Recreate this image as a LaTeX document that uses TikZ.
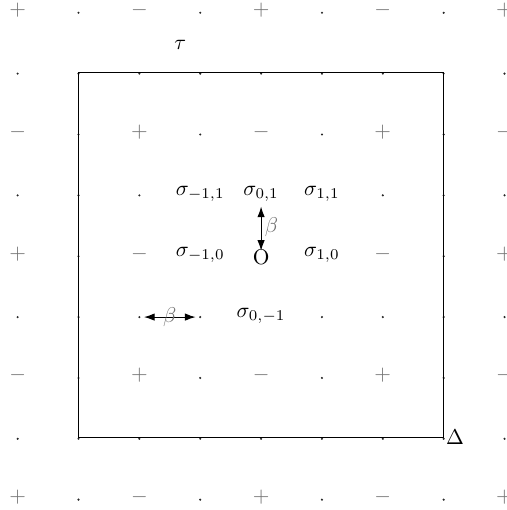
\documentclass[tikz,border=0pt]{standalone}
\usetikzlibrary{arrows.meta}
\begin{document}
\begin{tikzpicture}[
  sgn/.style={text=black!55, inner sep=0pt},
  gdot/.style={circle, fill=black!85, inner sep=0pt, minimum size=1.1pt},
  sig/.style={inner sep=2pt},
  lab/.style={inner sep=1pt},
  conn/.style={{Latex[length=5pt,width=3.5pt]}-{Latex[length=5pt,width=3.5pt]}, line width=0.5pt},
  blab/.style={text=black!55, inner sep=1.5pt},
]
\useasboundingbox (-4.29,-4.19) rectangle (4.03,4.19);
% grid of signs and dots
\foreach \i in {-4,...,4}{
  \foreach \j in {-4,...,4}{
    \pgfmathtruncatemacro\pe{and(mod(abs(\i),2)==0, mod(abs(\j),2)==0)}
    \pgfmathtruncatemacro\sk{and(and(abs(\i)<=1, abs(\j)<=1), not(and(\j==-1, abs(\i)==1)))}
    \pgfmathtruncatemacro\sg{mod(abs(\i+\j)/2,2)}
    \ifnum\sk=0
      \ifnum\pe=1
        \node[sgn] (g\i\j) at (\i,\j+0.02) {\ifnum\sg=0 $+$\else $-$\fi};
      \else
        \node[gdot] (g\i\j) at (\i,\j-0.02) {};
      \fi
    \fi
  }
}
% square
\draw[line width=0.55pt] (-3,-3) rectangle (3,3);
% labels
\node[sig] (sm11) at (-1,1) {$\sigma_{-1,1}$};
\node[sig] (s01) at (0,1) {$\sigma_{0,1}$};
\node[sig] (s11) at (1,1) {$\sigma_{1,1}$};
\node[sig] (sm10) at (-1,0) {$\sigma_{-1,0}$};
\node[inner sep=0pt] (O) at (0,-0.03) {O};
\node[sig] (s10) at (1,0) {$\sigma_{1,0}$};
\node[sig] (s0m1) at (0,-1) {$\sigma_{0,-1}$};
\node[lab] (tau) at (-1.33,3.45) {$\tau$};
\node[lab, anchor=west] (Delta) at (3,-3) {$\Delta$};
% arrows
\draw[conn, shorten >=-1pt] (s01.south) -- (O.north) node[midway, right, blab] {$\beta$};
\draw[conn, shorten >=1.4pt, shorten <=1.4pt] (g-2-1) -- (g-1-1) node[midway, blab] {$\beta$};
\end{tikzpicture}
\end{document}
